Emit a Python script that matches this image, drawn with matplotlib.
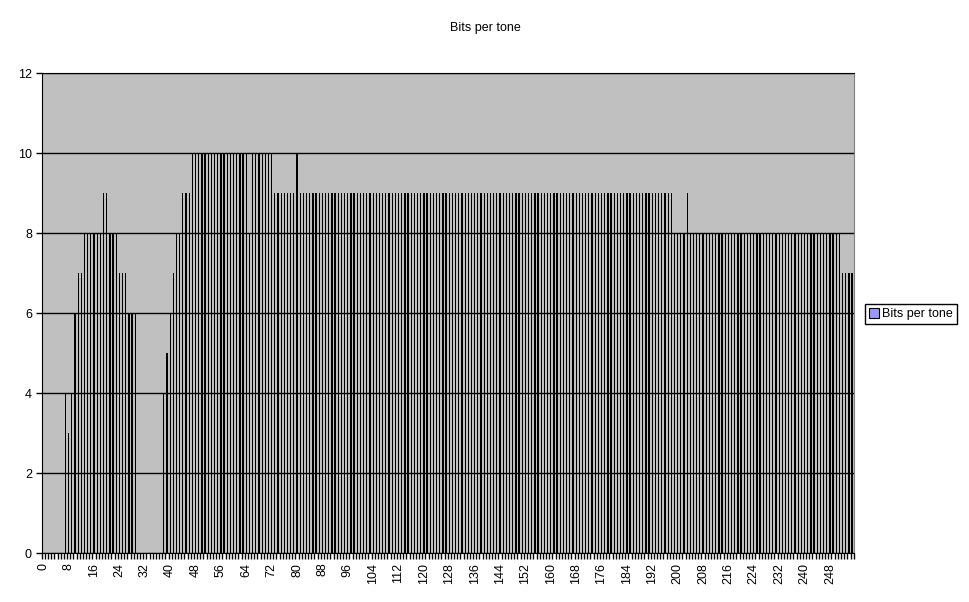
import numpy as np
import matplotlib
matplotlib.use("Agg")
import matplotlib.pyplot as plt
from matplotlib.patches import Patch

plt.rcParams['font.family'] = ['Liberation Sans', 'DejaVu Sans']

# bits loaded on each of the 256 tones
bits = [
    0, 0, 0, 0, 0, 0, 0, 4, 3, 4, 6, 7, 7, 8, 8, 8,
    8, 8, 8, 9, 9, 8, 8, 8, 7, 7, 7, 6, 6, 6, 0, 0,
    0, 0, 0, 0, 0, 0, 4, 5, 6, 7, 8, 8, 9, 9, 9, 10,
    10, 10, 10, 10, 10, 10, 10, 10, 10, 10, 10, 10, 10, 10, 10, 10,
    10, 8, 10, 10, 10, 10, 10, 10, 10, 9, 9, 9, 9, 9, 9, 9,
    10, 9, 9, 9, 9, 9, 9, 9, 9, 9, 9, 9, 9, 9, 9, 9,
    9, 9, 9, 9, 9, 9, 9, 9, 9, 9, 9, 9, 9, 9, 9, 9,
    9, 9, 9, 9, 9, 9, 9, 9, 9, 9, 9, 9, 9, 9, 9, 9,
    9, 9, 9, 9, 9, 9, 9, 9, 9, 9, 9, 9, 9, 9, 9, 9,
    9, 9, 9, 9, 9, 9, 9, 9, 9, 9, 9, 9, 9, 9, 9, 9,
    9, 9, 9, 9, 9, 9, 9, 9, 9, 9, 9, 9, 9, 9, 9, 9,
    9, 9, 9, 9, 9, 9, 9, 9, 9, 9, 9, 9, 9, 9, 9, 9,
    9, 9, 9, 9, 9, 9, 9, 8, 8, 8, 8, 9, 8, 8, 8, 8,
    8, 8, 8, 8, 8, 8, 8, 8, 8, 8, 8, 8, 8, 8, 8, 8,
    8, 8, 8, 8, 8, 8, 8, 8, 8, 8, 8, 8, 8, 8, 8, 8,
    8, 8, 8, 8, 8, 8, 8, 8, 8, 8, 8, 8, 7, 7, 7, 7,
]
tones = np.arange(len(bits))
label_step = 8
y_ticks = [0, 2, 4, 6, 8, 10, 12]

fig = plt.figure(figsize=(9.7, 6.02), dpi=100)
fig.patch.set_facecolor('white')
ax = fig.add_axes([41.7 / 970, 49 / 602, 812 / 970, 480 / 602])
ax.set_facecolor('#C0C0C0')

ax.bar(tones, bits, width=0.4, color='black', linewidth=0, zorder=3,
       antialiased=False)

ax.set_xlim(-0.5, len(bits) - 0.5)
ax.set_ylim(0, 12)
ax.set_yticks(y_ticks)
ax.yaxis.grid(True, color='black', linewidth=1)
ax.set_axisbelow(True)
ax.tick_params(axis='y', direction='out', length=4, width=1, labelsize=9, pad=3)

ax.set_xticks(tones[::label_step])
ax.set_xticklabels([str(t) for t in tones[::label_step]], rotation=90, fontsize=9)
ax.set_xticks(np.arange(len(bits) + 1) - 0.5, minor=True)
ax.tick_params(axis='x', which='major', length=0, pad=7)
ax.tick_params(axis='x', which='minor', direction='out', length=4, width=1)

ax.spines['left'].set_color('black')
ax.spines['bottom'].set_color('black')
ax.spines['top'].set_color('black')
ax.spines['right'].set_color('#808080')

fig.text(0.5, 1 - 28 / 602, 'Bits per tone', ha='center', va='center', fontsize=9)

handle = Patch(facecolor='#9999FF', edgecolor='black', linewidth=0.8)
leg = fig.legend([handle], ['Bits per tone'], loc='center',
                 bbox_to_anchor=(911 / 970, 1 - 314 / 602),
                 fontsize=9, frameon=True, fancybox=False, framealpha=1,
                 edgecolor='black', handlelength=0.8, handleheight=0.8,
                 handletextpad=0.3, borderpad=0.3)
leg.get_frame().set_linewidth(1)

fig.savefig('out.png', dpi=100, facecolor='white')
